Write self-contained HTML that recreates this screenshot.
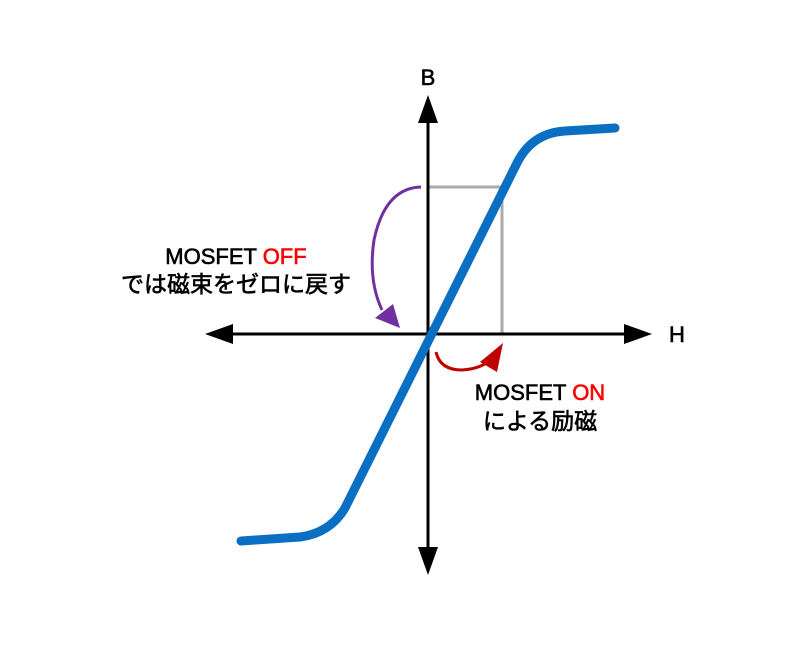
<!DOCTYPE html>
<html><head><meta charset="utf-8"><style>
html,body{margin:0;padding:0;background:#fff;}
svg text{font-family:"Liberation Sans","Noto Sans CJK JP",sans-serif;}
</style></head><body>
<svg width="800" height="640" viewBox="0 0 800 640" xmlns="http://www.w3.org/2000/svg">
<rect width="800" height="640" fill="#fff"/>
<polyline points="428,187 502,187 502,334" fill="none" stroke="#aaaaaa" stroke-width="3"/>
<line x1="428" y1="120" x2="428" y2="548" stroke="#000" stroke-width="3"/>
<polygon points="428,95 418,123 438,123" fill="#000"/>
<polygon points="428,575 418,547 438,547" fill="#000"/>
<line x1="230" y1="334" x2="626" y2="334" stroke="#000" stroke-width="3"/>
<polygon points="205,334 233,324 233,344" fill="#000"/>
<polygon points="652,334 624,324 624,344" fill="#000"/>
<g stroke="#000" stroke-width="0.6">
<text x="428" y="85" font-size="22" text-anchor="middle">B</text>
<text x="677" y="342" font-size="22" text-anchor="middle">H</text>
</g>
<path d="M241,541 L300,537 Q330,533 345,508 L517,163 Q532,133 565,131 L615,128" fill="none" stroke="#0a6fc2" stroke-width="9" stroke-linecap="round" stroke-linejoin="round"/>
<path d="M421,187 Q385,188 374,240 Q368,280 382,310" fill="none" stroke="#7030a0" stroke-width="3"/>
<polygon points="400,328 375,318 393,304" fill="#7030a0"/>
<path d="M436,352 Q440,370 462,370 Q478,369 488,362" fill="none" stroke="#c00000" stroke-width="3"/>
<polygon points="503,343 480,362 497,372" fill="#c00000"/>
<g stroke="#000" stroke-width="0.6">
<text x="236" y="264" font-size="22" text-anchor="middle">MOSFET <tspan fill="#ff0000" stroke="#ff0000">OFF</tspan></text>
<text x="236" y="292" font-size="23" text-anchor="middle">では磁束をゼロに戻す</text>
<text x="540" y="400" font-size="22" text-anchor="middle">MOSFET <tspan fill="#ff0000" stroke="#ff0000">ON</tspan></text>
<text x="540" y="429" font-size="23" text-anchor="middle">による励磁</text>
</g>
</svg>
</body></html>
